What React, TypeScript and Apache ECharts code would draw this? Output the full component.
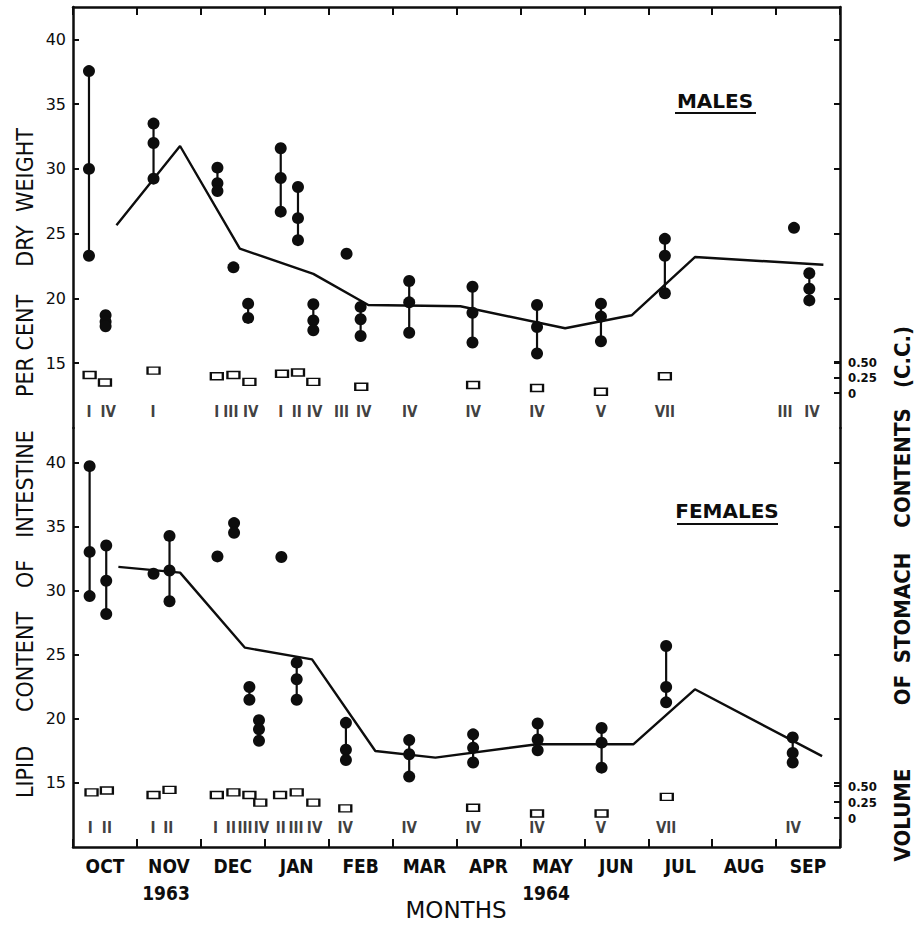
import React, { useEffect, useRef } from 'react';
import * as echarts from 'echarts';

// ---------- data ----------
const MONTHS = ['OCT', 'NOV', 'DEC', 'JAN', 'FEB', 'MAR', 'APR', 'MAY', 'JUN', 'JUL', 'AUG', 'SEP'];
const LIPID_TICKS = [15, 20, 25, 30, 35, 40];
const VOLUME_TICKS = [0, 0.25, 0.5];

// [month position (0 = 1 Oct 1963), individual lipid values (% dry weight)]
const MALE_SAMPLES: [number, number[]][] = [
  [0.25, [37.55, 30.0, 23.3]],
  [0.51, [18.7, 18.2, 17.85]],
  [1.26, [33.5, 32.0, 29.25]],
  [2.26, [30.1, 28.9, 28.3]],
  [2.51, [22.4]],
  [2.74, [19.6, 18.5]],
  [3.25, [31.6, 29.3, 26.7]],
  [3.52, [28.6, 26.2, 24.5]],
  [3.76, [19.55, 18.3, 17.55]],
  [4.28, [23.45]],
  [4.5, [19.35, 18.4, 17.1]],
  [5.26, [21.35, 19.7, 17.35]],
  [6.25, [20.9, 18.9, 16.6]],
  [7.26, [19.5, 17.8, 15.75]],
  [8.26, [19.6, 18.6, 16.7]],
  [9.26, [24.6, 23.3, 20.4]],
  [11.28, [25.45]],
  [11.52, [21.95, 20.75, 19.85]],
];
const FEMALE_SAMPLES: [number, number[]][] = [
  [0.26, [39.75, 33.05, 29.6]],
  [0.52, [33.55, 30.8, 28.2]],
  [1.26, [31.35]],
  [1.51, [34.3, 31.6, 29.2]],
  [2.26, [32.7]],
  [2.52, [35.3, 34.55]],
  [2.76, [22.5, 21.5]],
  [2.91, [19.9, 19.2, 18.3]],
  [3.26, [32.65]],
  [3.5, [24.4, 23.1, 21.5]],
  [4.27, [19.7, 17.6, 16.8]],
  [5.26, [18.35, 17.25, 15.5]],
  [6.26, [18.8, 17.75, 16.6]],
  [7.27, [19.65, 18.4, 17.55]],
  [8.27, [19.3, 18.15, 16.2]],
  [9.28, [25.7, 22.5, 21.3]],
  [11.26, [18.55, 17.35, 16.6]],
];

// mean curves
const MALE_MEAN: [number, number][] = [
  [0.68, 25.65], [1.675, 31.77], [2.61, 23.85], [3.76, 21.9], [4.62, 19.5],
  [6.06, 19.4], [7.7, 17.7], [8.74, 18.7], [9.73, 23.2], [11.74, 22.6],
];
const FEMALE_MEAN: [number, number][] = [
  [0.71, 31.88], [1.675, 31.43], [2.69, 25.57], [3.74, 24.66], [4.73, 17.5],
  [5.67, 16.98], [7.26, 18.03], [8.77, 18.03], [9.73, 22.32], [11.72, 17.1],
];

// volume of stomach contents (c.c.)
const MALE_STOMACH: [number, number][] = [
  [0.26, 0.29], [0.5, 0.17], [1.26, 0.36], [2.25, 0.27], [2.51, 0.29], [2.76, 0.18],
  [3.27, 0.31], [3.52, 0.33], [3.76, 0.18], [4.51, 0.1], [6.26, 0.13], [7.26, 0.08],
  [8.26, 0.02], [9.26, 0.27],
];
const FEMALE_STOMACH: [number, number][] = [
  [0.29, 0.4], [0.53, 0.43], [1.26, 0.36], [1.51, 0.44], [2.25, 0.36], [2.51, 0.4],
  [2.76, 0.36], [2.93, 0.24], [3.24, 0.36], [3.5, 0.4], [3.76, 0.24], [4.26, 0.15],
  [6.26, 0.16], [7.26, 0.07], [8.27, 0.07], [9.29, 0.33],
];

// maturity stages
const MALE_STAGES: [number, string][] = [
  [0.25, 'I'], [0.55, 'IV'], [1.25, 'I'], [2.25, 'I'], [2.47, 'III'], [2.78, 'IV'],
  [3.25, 'I'], [3.5, 'II'], [3.78, 'IV'], [4.2, 'III'], [4.55, 'IV'], [5.27, 'IV'],
  [6.26, 'IV'], [7.26, 'IV'], [8.26, 'V'], [9.26, 'VII'], [11.14, 'III'], [11.56, 'IV'],
];
const FEMALE_STAGES: [number, string][] = [
  [0.27, 'I'], [0.53, 'II'], [1.25, 'I'], [1.49, 'II'], [2.23, 'I'], [2.47, 'II'],
  [2.69, 'III'], [2.95, 'IV'], [3.25, 'II'], [3.49, 'III'], [3.78, 'IV'], [4.26, 'IV'],
  [5.26, 'IV'], [6.26, 'IV'], [7.26, 'IV'], [8.26, 'V'], [9.28, 'VII'], [11.27, 'IV'],
];

// ---------- layout ----------
const INK = '#0d0d0d';
const NARROW = '"Liberation Sans Narrow", "DejaVu Sans Condensed", sans-serif';
const WIDE = '"DejaVu Sans", sans-serif';

function panelSeries(
  samples: [number, number[]][],
  mean: [number, number][],
  stomach: [number, number][],
  stages: [number, string][],
  xIdx: number,
  yLipid: number,
  yVol: number,
  stageRow: number,
) {
  const ranges = samples
    .filter(([, vs]) => vs.length > 1)
    .map(([x, vs]) => [x, Math.min(...vs), Math.max(...vs)]);
  const points = samples.flatMap(([x, vs]) => vs.map((v) => [x, v]));
  return [
    {
      type: 'custom',
      xAxisIndex: xIdx,
      yAxisIndex: yLipid,
      data: ranges,
      renderItem: (_p: any, api: any) => {
        const a = api.coord([api.value(0), api.value(1)]);
        const b = api.coord([api.value(0), api.value(2)]);
        return {
          type: 'line',
          shape: { x1: a[0], y1: a[1], x2: b[0], y2: b[1] },
          style: { stroke: INK, lineWidth: 2.2 },
        };
      },
      z: 2,
    },
    {
      type: 'line',
      xAxisIndex: xIdx,
      yAxisIndex: yLipid,
      data: mean,
      showSymbol: false,
      symbol: 'none',
      lineStyle: { color: INK, width: 2.4 },
      z: 3,
    },
    {
      type: 'scatter',
      xAxisIndex: xIdx,
      yAxisIndex: yLipid,
      data: points,
      symbol: 'circle',
      symbolSize: 12,
      itemStyle: { color: INK, opacity: 1 },
      z: 4,
    },
    {
      type: 'scatter',
      xAxisIndex: xIdx,
      yAxisIndex: yVol,
      data: stomach,
      symbol: 'rect',
      symbolSize: [12, 7],
      itemStyle: { color: '#fff', borderColor: INK, borderWidth: 1.8, opacity: 1 },
      z: 4,
    },
    {
      type: 'scatter',
      xAxisIndex: xIdx,
      yAxisIndex: yVol,
      data: stages.map(([x, s]) => ({ name: s, value: [x, stageRow] })),
      symbol: 'circle',
      symbolSize: 1,
      itemStyle: { color: 'rgba(0,0,0,0)' },
      label: {
        show: true,
        position: 'inside',
        formatter: '{b}',
        fontFamily: NARROW,
        fontWeight: 'bold',
        fontSize: 15,
        color: INK,
      },
      z: 5,
    },
  ];
}

function lipidAxis(grid: number, position: 'left' | 'right', max: number, labels: boolean) {
  return {
    type: 'value',
    gridIndex: grid,
    position,
    min: 10,
    max,
    interval: 5,
    axisLine: { show: true, onZero: false, lineStyle: { color: INK, width: 2.5 } },
    axisTick: {
      show: true,
      inside: true,
      length: 6,
      customValues: LIPID_TICKS,
      lineStyle: { color: INK, width: 2 },
    },
    axisLabel: {
      show: labels,
      customValues: LIPID_TICKS,
      formatter: (v: number) => (v >= 15 ? String(v) : ''),
      margin: 7,
      fontFamily: WIDE,
      fontSize: 16,
      color: INK,
    },
    splitLine: { show: false },
  };
}

function volumeAxis(grid: number, min: number, max: number) {
  return {
    type: 'value',
    gridIndex: grid,
    position: 'right',
    min,
    max,
    axisLine: { show: false, onZero: false },
    axisTick: {
      show: true,
      inside: true,
      length: 6,
      customValues: VOLUME_TICKS,
      lineStyle: { color: INK, width: 2 },
    },
    axisLabel: {
      show: true,
      customValues: VOLUME_TICKS,
      formatter: (v: number) => (v === 0 ? '0' : v.toFixed(2)),
      margin: 8,
      fontFamily: NARROW,
      fontWeight: 'bold',
      fontSize: 13,
      lineHeight: 13,
      color: INK,
    },
    splitLine: { show: false },
  };
}

function monthAxis(grid: number, position: 'top' | 'bottom') {
  return {
    type: 'value',
    gridIndex: grid,
    position,
    min: 0,
    max: 12,
    interval: 1,
    axisLine: { show: true, onZero: false, lineStyle: { color: INK, width: 2.5 } },
    axisTick: { show: true, inside: true, length: 8, lineStyle: { color: INK, width: 2 } },
    axisLabel: { show: false },
    splitLine: { show: false },
  };
}

function vText(text: string, x: number, y: number, font: string) {
  return {
    type: 'text',
    x,
    y,
    rotation: Math.PI / 2,
    style: { text, font, fill: INK, align: 'center', verticalAlign: 'middle' },
  };
}
function hText(text: string, x: number, y: number, font: string) {
  return {
    type: 'text',
    x,
    y,
    style: { text, font, fill: INK, align: 'center', verticalAlign: 'middle' },
  };
}

export default function App() {
  const ref = useRef<HTMLDivElement>(null);
  useEffect(() => {
    if (!ref.current) return;
    const chart = echarts.init(ref.current, undefined, { renderer: 'svg' });
    const leftFont = `23px ${NARROW}`;
    const rightFont = `bold 22px ${NARROW}`;
    const option: any = {
      animation: false,
      backgroundColor: '#fff',
      grid: [
        { left: 73, top: 7, width: 767, height: 421 },
        { left: 73, top: 428, width: 767, height: 419 },
      ],
      xAxis: [
        monthAxis(0, 'top'),
        monthAxis(1, 'bottom'),
        {
          type: 'category',
          gridIndex: 1,
          position: 'bottom',
          offset: 0,
          data: MONTHS,
          boundaryGap: true,
          axisLine: { show: false, onZero: false },
          axisTick: { show: false },
          axisLabel: {
            margin: 9,
            fontFamily: NARROW,
            fontWeight: 'bold',
            fontSize: 19,
            color: INK,
            interval: 0,
          },
          splitLine: { show: false },
        },
      ],
      yAxis: [
        lipidAxis(0, 'left', 42.5, true),
        volumeAxis(0, -0.5645, 6.226),
        lipidAxis(0, 'right', 42.5, false),
        lipidAxis(1, 'left', 42.73, true),
        volumeAxis(1, -0.453, 6.094),
        lipidAxis(1, 'right', 42.73, false),
      ],
      series: [
        ...panelSeries(MALE_SAMPLES, MALE_MEAN, MALE_STOMACH, MALE_STAGES, 0, 0, 1, -0.31),
        ...panelSeries(FEMALE_SAMPLES, FEMALE_MEAN, FEMALE_STOMACH, FEMALE_STAGES, 1, 3, 4, -0.16),
      ],
      graphic: [
        hText('MALES', 715, 101, `bold 20px ${WIDE}`),
        { type: 'line', shape: { x1: 675, y1: 113, x2: 756, y2: 113 }, style: { stroke: INK, lineWidth: 2 } },
        hText('FEMALES', 727, 511, `bold 20px ${WIDE}`),
        { type: 'line', shape: { x1: 677, y1: 524, x2: 778, y2: 524 }, style: { stroke: INK, lineWidth: 2 } },
        hText('1963', 166, 893, `bold 19px ${NARROW}`),
        hText('1964', 546, 893, `bold 19px ${NARROW}`),
        hText('MONTHS', 456, 910, `23px ${WIDE}`),
        vText('WEIGHT', 25, 170, leftFont),
        vText('DRY', 25, 246, leftFont),
        vText('PER CENT', 25, 346, leftFont),
        vText('INTESTINE', 25, 484, leftFont),
        vText('OF', 25, 574, leftFont),
        vText('CONTENT', 25, 662, leftFont),
        vText('LIPID', 25, 772, leftFont),
        vText('(C.C.)', 902, 357, rightFont),
        vText('CONTENTS', 902, 468, rightFont),
        vText('STOMACH', 902, 608, rightFont),
        vText('OF', 902, 690, rightFont),
        vText('VOLUME', 902, 815, rightFont),
      ],
    };
    chart.setOption(option);
    return () => chart.dispose();
  }, []);
  return (
    <div
      ref={ref}
      style={{ position: 'fixed', left: 0, top: 0, width: 919, height: 936, background: '#fff' }}
    />
  );
}
